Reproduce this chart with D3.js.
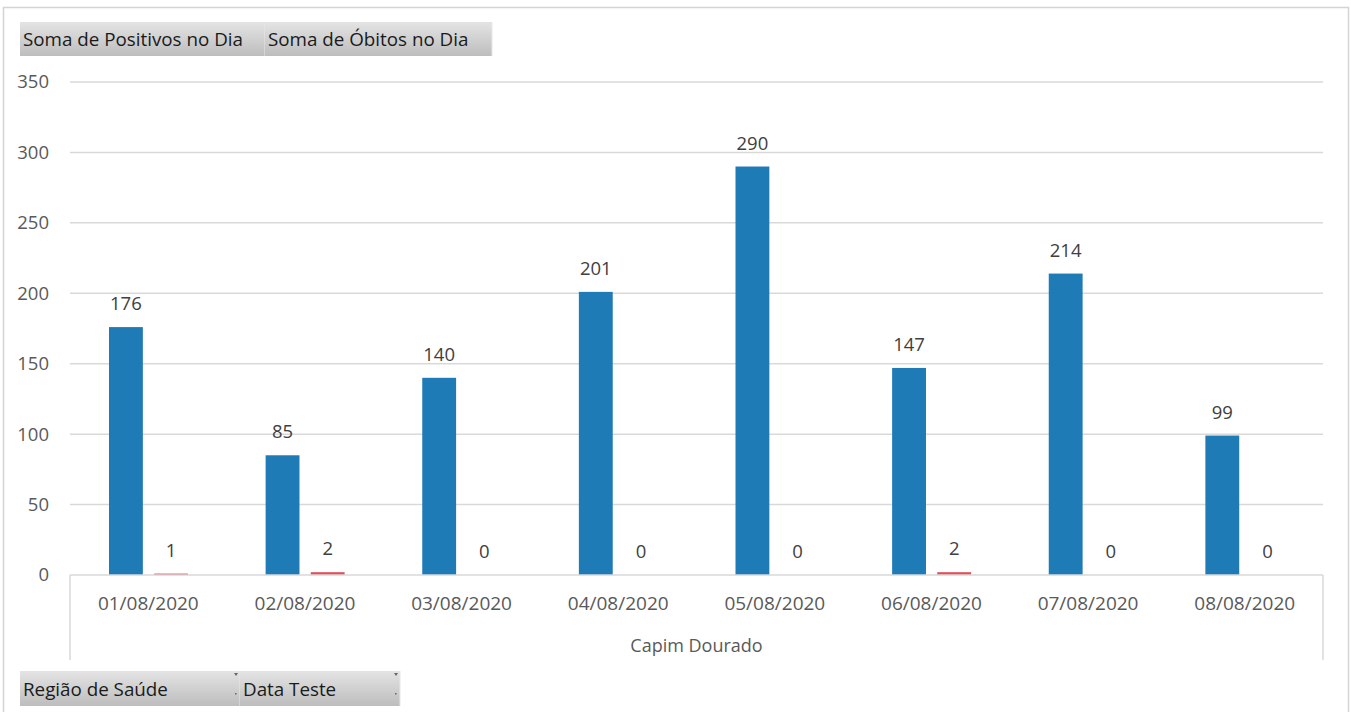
<!DOCTYPE html>
<html>
<head>
<meta charset="utf-8">
<script src="https://cdn.jsdelivr.net/npm/d3@7"></script>
<style>
  body { margin: 0; background: #fff; }
  svg text { font-family: "Open Sans", "Noto Sans", sans-serif; }
</style>
</head>
<body>
<svg id="chart" width="1351" height="712"></svg>
<script>
// data
let dates = ["01/08/2020", "02/08/2020", "03/08/2020", "04/08/2020",
             "05/08/2020", "06/08/2020", "07/08/2020", "08/08/2020"];
let positivos = [176, 85, 140, 201, 290, 147, 214, 99];
let obitos = [1, 2, 0, 0, 0, 2, 0, 0];
let yTicks = [0, 50, 100, 150, 200, 250, 300, 350];
let seriesNames = ["Soma de Positivos no Dia", "Soma de Óbitos no Dia"];
let filterNames = ["Região de Saúde", "Data Teste"];
let groupName = "Capim Dourado";

let svg = d3.select('#chart');

let plotLeft = 70, plotRight = 1323, plotTop = 82, plotBottom = 575;

// gradient for the pivot field buttons
let defs = svg.append('defs');
let grad = defs.append('linearGradient')
    .attr('id', 'btn').attr('x1', 0).attr('y1', 0).attr('x2', 0).attr('y2', 1);
grad.append('stop').attr('offset', '0%').attr('stop-color', '#e4e4e4');
grad.append('stop').attr('offset', '100%').attr('stop-color', '#bdbdbd');

// outer chart frame
svg.append('rect')
    .attr('x', 3.5).attr('y', 7.5).attr('width', 1345).attr('height', 720)
    .attr('fill', 'none').attr('stroke', '#d4d4d4').attr('stroke-width', 1.5);

let x0 = d3.scaleBand().domain(dates).range([plotLeft, plotRight]).paddingInner(0).paddingOuter(0);
let x1 = d3.scaleBand().domain(["p", "o"]).range([39, 118]).paddingInner(0.25);
let y = d3.scaleLinear().domain([0, 350]).range([plotBottom, plotTop]);

// gridlines
svg.append('g').selectAll('line')
    .data(yTicks.filter(d => d > 0))
    .enter().append('line')
    .attr('x1', plotLeft).attr('x2', plotRight)
    .attr('y1', d => y(d)).attr('y2', d => y(d))
    .attr('stroke', '#d9d9d9').attr('stroke-width', 1.5);

// y axis labels
let yAxis = d3.axisLeft(y).tickValues(yTicks).tickSize(0).tickPadding(21);
let gy = svg.append('g').attr('transform', `translate(${plotLeft},0)`).call(yAxis);
gy.select('.domain').remove();
gy.selectAll('text').attr('font-size', 18.5).attr('fill', '#595959')
    .attr('font-family', '"Open Sans", sans-serif');

// bars
let groups = svg.append('g').selectAll('g')
    .data(dates).enter().append('g')
    .attr('transform', d => `translate(${x0(d)},0)`);

groups.append('rect')
    .attr('x', x1('p')).attr('width', x1.bandwidth())
    .attr('y', (d, i) => y(positivos[i]))
    .attr('height', (d, i) => plotBottom - y(positivos[i]))
    .attr('fill', '#1f7bb6');

groups.append('rect')
    .attr('x', x1('o')).attr('width', x1.bandwidth())
    .attr('y', (d, i) => y(obitos[i]))
    .attr('height', (d, i) => plotBottom - y(obitos[i]))
    .attr('fill', '#e0505a');

groups.append('text')
    .attr('x', x1('p') + x1.bandwidth() / 2)
    .attr('y', (d, i) => y(positivos[i]) - 17)
    .attr('text-anchor', 'middle').attr('font-size', 18.5).attr('fill', '#404040')
    .text((d, i) => positivos[i]);

groups.append('text')
    .attr('x', x1('o') + x1.bandwidth() / 2)
    .attr('y', (d, i) => y(obitos[i]) - 17)
    .attr('text-anchor', 'middle').attr('font-size', 18.5).attr('fill', '#404040')
    .text((d, i) => obitos[i]);

// category axis
let xAxis = d3.axisBottom(x0).tickSize(0).tickPadding(22);
let gx = svg.append('g').attr('transform', `translate(0,${plotBottom})`).call(xAxis);
gx.select('.domain').remove();
gx.selectAll('text').attr('font-size', 19).attr('fill', '#595959')
    .attr('font-family', '"Open Sans", sans-serif');

svg.append('line')
    .attr('x1', plotLeft).attr('x2', plotRight).attr('y1', plotBottom).attr('y2', plotBottom)
    .attr('stroke', '#d9d9d9').attr('stroke-width', 1.5);
[plotLeft, plotRight].forEach(xv => {
    svg.append('line')
        .attr('x1', xv).attr('x2', xv).attr('y1', plotBottom).attr('y2', 660)
        .attr('stroke', '#d9d9d9').attr('stroke-width', 1.5);
});

svg.append('text')
    .attr('x', (plotLeft + plotRight) / 2).attr('y', 652)
    .attr('text-anchor', 'middle').attr('font-size', 18).attr('fill', '#595959')
    .text(groupName);

// field buttons
function drawButtons(names, xs, yTop, h, arrows) {
    names.forEach((n, i) => {
        let g = svg.append('g');
        g.append('rect')
            .attr('x', xs[i]).attr('y', yTop).attr('width', xs[i + 1] - xs[i]).attr('height', h)
            .attr('fill', 'url(#btn)');
        g.append('line')
            .attr('x1', xs[i + 1]).attr('x2', xs[i + 1]).attr('y1', yTop).attr('y2', yTop + h)
            .attr('stroke', '#e8e8e8');
        g.append('text')
            .attr('x', xs[i] + 3).attr('y', yTop + h / 2 + 7)
            .attr('font-size', 18.8).attr('fill', '#1a1a1a')
            .text(n);
        if (arrows) {
            g.append('path')
                .attr('d', `M${xs[i + 1] - 6},${yTop + 2}l4,0l-2,3z`)
                .attr('fill', '#666');
            g.append('rect')
                .attr('x', xs[i + 1] - 5).attr('y', yTop + h - 13).attr('width', 1.5).attr('height', 1.5)
                .attr('fill', '#666');
        }
    });
}
drawButtons(seriesNames, [20, 265, 492], 22, 34, false);
drawButtons(filterNames, [20, 240, 400], 671, 35, true);
</script>
</body>
</html>
